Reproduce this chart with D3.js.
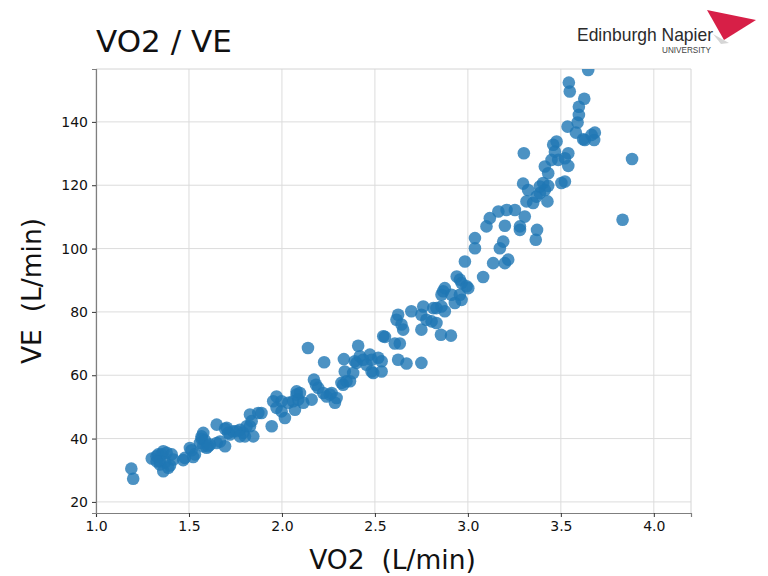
<!DOCTYPE html>
<html>
<head>
<meta charset="utf-8">
<script src="https://cdn.jsdelivr.net/npm/d3@7"></script>
<style>
  body { margin: 0; background: #fff; }
  svg { display: block; font-family: "DejaVu Sans", sans-serif; }
</style>
</head>
<body>
<svg id="chart" width="768" height="576"></svg>
<script>
// values (VO2 in L/min, VE in L/min)
var vo2 = [
  1.19, 1.20, 1.30, 1.326, 1.335, 1.353, 1.362, 1.38, 1.407, 1.416,
  1.344, 1.371, 1.344, 1.362, 1.389, 1.398, 1.326, 1.469, 1.478, 1.505,
  1.514, 1.523, 1.532, 1.559, 1.568, 1.568, 1.577, 1.577, 1.586, 1.595,
  1.604, 1.613, 1.649, 1.667, 1.694, 1.649, 1.703, 1.711, 1.720, 1.738,
  1.756, 1.774, 1.792, 1.810, 1.801, 1.774, 1.694, 1.828, 1.837, 1.828,
  1.846, 1.873, 1.890, 1.945, 1.953, 1.971, 1.998, 1.971, 1.998, 2.016,
  2.034, 2.060, 2.079, 2.097, 2.088, 2.115, 2.070, 2.079, 2.16, 2.172,
  2.183, 2.195, 2.222, 2.240, 2.258, 2.267, 2.294, 2.285, 2.14, 2.227,
  2.320, 2.329, 2.347, 2.366, 2.338, 2.383, 2.333, 2.41, 2.392, 2.401,
  2.419, 2.437, 2.473, 2.482, 2.455, 2.518, 2.536, 2.536, 2.482, 2.491,
  2.545, 2.554, 2.607, 2.634, 2.625, 2.670, 2.750, 2.652, 2.625, 2.616,
  2.643, 2.696, 2.750, 2.760, 2.777, 2.805, 2.831, 2.814, 2.831, 2.858,
  2.876, 2.750, 2.855, 2.909, 2.858, 2.867, 2.876, 2.912, 2.930, 2.966,
  2.957, 2.940, 2.957, 2.966, 2.993, 3.002, 2.984, 3.082, 3.038, 3.038,
  3.100, 3.118, 3.136, 3.199, 3.217, 3.172, 3.190, 3.164, 3.208, 3.253,
  3.199, 3.280, 3.280, 3.306, 3.372, 3.365, 3.315, 3.351, 3.428, 3.369,
  3.387, 3.414, 3.297, 3.324, 3.405, 3.432, 3.387, 3.503, 3.522, 3.301,
  3.414, 3.432, 3.450, 3.486, 3.522, 3.540, 3.540, 3.468, 3.459, 3.477,
  3.536, 3.581, 3.590, 3.597, 3.597, 3.626, 3.543, 3.548, 3.647, 3.620,
  3.629, 3.679, 3.683, 3.665, 3.883, 3.832
];
var ve = [
  30.5, 27.3, 33.7, 34.4, 35.0, 35.0, 36.0, 35.5, 35.0, 33.4,
  32.8, 32.5, 31.8, 29.7, 30.8, 31.5, 32.8, 33.2, 33.9, 37.0,
  36.3, 34.2, 35.0, 38.6, 39.9, 40.7, 41.8, 37.6, 39.4, 37.1,
  37.6, 38.1, 38.6, 39.1, 37.6, 44.4, 43.4, 41.8, 41.3, 42.3,
  42.3, 42.8, 41.8, 43.9, 40.7, 40.7, 43.1, 47.6, 45.5, 43.9,
  40.7, 48.1, 48.1, 43.9, 51.8, 53.3, 51.8, 49.7, 48.6, 46.5,
  51.3, 51.8, 53.9, 54.4, 52.3, 51.3, 49.1, 54.9, 52.3, 58.6,
  57.0, 56.0, 54.4, 53.3, 53.9, 54.4, 52.8, 51.3, 68.6, 64.1,
  57.6, 57.0, 58.1, 58.1, 61.2, 60.7, 65.1, 69.3, 64.4, 63.9,
  66.0, 64.9, 66.5, 64.9, 63.3, 65.5, 64.4, 61.2, 61.2, 60.7,
  72.3, 72.1, 70.0, 70.0, 64.9, 63.7, 63.9, 74.4, 79.1, 77.5,
  76.0, 80.2, 79.1, 81.7, 77.5, 77.0, 76.5, 81.2, 81.2, 81.7,
  80.2, 74.4, 72.8, 72.5, 85.4, 86.5, 87.5, 85.4, 82.8, 83.8,
  85.4, 91.2, 90.2, 89.1, 88.1, 87.5, 95.9, 91.0, 103.3, 100.1,
  107.0, 109.6, 95.4, 95.4, 96.5, 100.1, 102.2, 111.7, 112.2, 112.2,
  107.2, 107.0, 105.9, 110.1, 105.9, 102.8, 114.9, 114.4, 114.9, 116.4,
  117.5, 118.5, 120.5, 118.5, 120.7, 119.8, 119.6, 120.7, 121.2, 130.1,
  125.9, 123.8, 128.0, 128.0, 128.5, 126.1, 130.1, 130.6, 132.8, 133.8,
  138.5, 136.6, 139.8, 142.2, 144.8, 147.3, 152.4, 149.6, 156.4, 134.5,
  134.3, 134.3, 136.6, 135.9, 128.3, 109.1
];
var xTicks = [1.0, 1.5, 2.0, 2.5, 3.0, 3.5, 4.0];
var yTicks = [20, 40, 60, 80, 100, 120, 140];

var points = vo2.map(function(v, i) { return {x: v, y: ve[i]}; });

var plotLeft = 96, plotRight = 691, plotTop = 69, plotBottom = 513;

var svg = d3.select("#chart");

var x = d3.scaleLinear().domain([1.0, 4.2]).range([plotLeft, plotRight]);
var y = d3.scaleLinear().domain([16.5, 156.7]).range([plotBottom, plotTop]);

// grid
svg.append("g").selectAll("line")
    .data(xTicks)
    .enter().append("line")
    .attr("x1", function(d) { return x(d); })
    .attr("x2", function(d) { return x(d); })
    .attr("y1", plotTop).attr("y2", plotBottom)
    .attr("stroke", "#dcdcdc").attr("stroke-width", 1);
svg.append("g").selectAll("line")
    .data(yTicks)
    .enter().append("line")
    .attr("y1", function(d) { return y(d); })
    .attr("y2", function(d) { return y(d); })
    .attr("x1", plotLeft).attr("x2", plotRight)
    .attr("stroke", "#dcdcdc").attr("stroke-width", 1);

// light top / right frame
svg.append("line").attr("x1", plotLeft).attr("x2", plotRight).attr("y1", plotTop).attr("y2", plotTop)
    .attr("stroke", "#d4d4d4");
svg.append("line").attr("x1", plotRight).attr("x2", plotRight).attr("y1", plotTop).attr("y2", plotBottom)
    .attr("stroke", "#d4d4d4");

// points
svg.append("clipPath").attr("id", "plotclip")
    .append("rect").attr("x", plotLeft).attr("y", plotTop)
    .attr("width", plotRight - plotLeft).attr("height", plotBottom - plotTop);

svg.append("g")
    .attr("clip-path", "url(#plotclip)")
    .selectAll("circle")
    .data(points)
    .enter().append("circle")
    .attr("cx", function(d) { return x(d.x); })
    .attr("cy", function(d) { return y(d.y); })
    .attr("r", 6.3)
    .attr("fill", "#1f77b4")
    .attr("fill-opacity", 0.8);

// axes
var xAxis = svg.append("g")
    .attr("transform", "translate(0," + plotBottom + ")")
    .call(d3.axisBottom(x).tickValues(xTicks).tickFormat(d3.format(".1f")).tickSize(4).tickPadding(4));
var yAxis = svg.append("g")
    .attr("transform", "translate(" + plotLeft + ",0)")
    .call(d3.axisLeft(y).tickValues(yTicks).tickSize(4).tickPadding(4));

[xAxis, yAxis].forEach(function(a) {
    a.select(".domain").attr("stroke", "#7f7f7f").attr("stroke-width", 1.2);
    a.selectAll(".tick line").attr("stroke", "#333");
    a.selectAll(".tick text")
        .attr("fill", "#111")
        .style("font-family", "DejaVu Sans")
        .style("font-size", "14px");
});

// labels
svg.append("text")
    .attr("x", 96).attr("y", 52)
    .style("font-size", "31px")
    .attr("fill", "#111")
    .text("VO2 / VE");

svg.append("text")
    .attr("x", (plotLeft + plotRight) / 2 - 1).attr("y", 569)
    .attr("text-anchor", "middle")
    .style("font-size", "26.5px")
    .style("white-space", "pre")
    .attr("fill", "#111")
    .text("VO2  (L/min)");

svg.append("text")
    .attr("transform", "translate(41," + ((plotTop + plotBottom) / 2) + ") rotate(-90)")
    .attr("text-anchor", "middle")
    .style("font-size", "26.5px")
    .style("white-space", "pre")
    .attr("fill", "#111")
    .text("VE  (L/min)");

// logo
var logo = svg.append("g");
logo.append("polygon")
    .attr("points", "713,34 729,43 721,44")
    .attr("fill", "#d6d6d6");
logo.append("polygon")
    .attr("points", "707,10 756,20 724,40")
    .attr("fill", "#d71f47");
logo.append("text")
    .attr("x", 577).attr("y", 41)
    .attr("textLength", 136)
    .attr("lengthAdjust", "spacingAndGlyphs")
    .style("font-family", "Liberation Sans Narrow, Liberation Sans")
    .style("font-size", "19px")
    .attr("fill", "#2b2b2b")
    .text("Edinburgh Napier");
logo.append("text")
    .attr("x", 662).attr("y", 53)
    .attr("textLength", 49)
    .attr("lengthAdjust", "spacingAndGlyphs")
    .style("font-family", "Liberation Sans Narrow, Liberation Sans")
    .style("font-size", "9px")
    .attr("fill", "#444")
    .text("UNIVERSITY");
</script>
</body>
</html>
